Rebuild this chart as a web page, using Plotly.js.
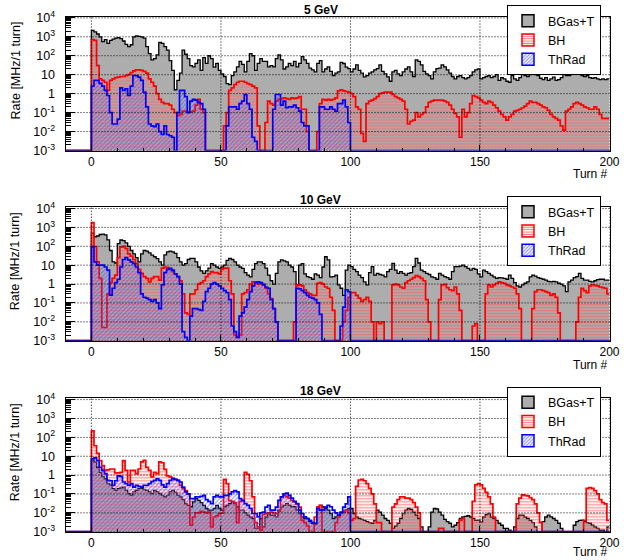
<!DOCTYPE html>
<html>
<head>
<meta charset="utf-8">
<script src="https://cdn.plot.ly/plotly-3.0.1.min.js"></script>
<style>
html,body{margin:0;padding:0;background:#fff;}
#chart{width:624px;height:560px;}
</style>
</head>
<body>
<div id="chart"></div>
<script>
// ---------------- data ----------------
const turnRange = [-10, 200];      // histogram axis range (turns)
const binWidth = 1;                // one bin per turn, bins start at turn 0
const panelTitles = ['5 GeV', '10 GeV', '18 GeV'];
const seriesNames = ['BGas+T', 'BH', 'ThRad'];
const xTickVals = [0, 50, 100, 150, 200];
const yTickVals = [1e-3, 1e-2, 1e-1, 1, 10, 100, 1000, 10000];
const yTickText = ['10<sup>-3</sup>', '10<sup>-2</sup>', '10<sup>-1</sup>', '1', '10', '10<sup>2</sup>', '10<sup>3</sup>', '10<sup>4</sup>'];
const xTitle = 'Turn #';
const yTitle = 'Rate [MHz/1 turn]';

// 5 GeV
const bgas5 = [
2200,1800,1400,1000,550,700,450,650,750,850,
900,800,600,400,300,380,1000,1100,1050,1000,
850,300,130,60,70,110,500,450,300,200,
55,17,1.6,5,12,200,120,70,30,26,
40,60,17,80,40,100,70,25,40,17,
11,8,3.4,3,9,14,26,50,35,14,
50,130,100,17,40,70,50,50,26,30,
26,70,110,60,20,26,40,30,50,26,
40,90,60,40,22,18,14,40,55,14,
20,26,15,9,12,14,45,39,25,21,
14,20,33,17,12,7.6,9,12,14,18,
21,33,15,11,7.6,4.5,14,17,11,9,
14,20,26,14,8,60,50,33,15,11,
9,6,14,21,22,33,26,18,12,8,
6,8,9,7,6,7,9,14,18,20,
6,7,8,9,7,8,10,5,7,6,
4.5,4,9,6,5,7,11,9,8,10,
11,10,9,6.5,5.5,7,5,6,7.5,5,
5.5,7,11,9,9,12,14,13,11,9,
8,9,7,6.5,7,6,5.5,6,5.5,6];
const bh5 = [
700,650,30,6,5,4,1.5,5,6,7,
7.5,8,8,9,10,13,16,18,18,17,
15,12,6,4,2.5,1,0.5,0.35,0.3,0.3,
0.25,0.15,0.1,0.07,0.08,0.12,0.12,0.11,0.11,0.12,
0.25,0.5,0.15,0.1,0,0,0,0,0,0,
0,0.02,0.1,1.5,2,3,4,4.5,4.5,4,
3.4,3,2.5,2,0.02,0,0,0.03,0.4,0.3,
0.25,0.4,0.5,0.55,0.6,0.55,0.5,0.6,0.55,0.6,
0.7,0.15,0.15,0.01,0,0,0,0.01,0.3,0.5,
0.45,0.5,0.45,0.5,0.6,1.4,1.6,1.4,1.3,1.2,
1.0,0.7,0.2,0.15,0.008,0.003,0.3,0.4,0.45,0.55,
0.7,1.0,1.1,1.2,1.2,1.2,0.9,0.7,0.6,0.5,
0.4,0.15,0.025,0.035,0.04,0.1,0.06,0.08,0.1,0.2,
0.35,0.4,0.45,0.45,0.45,0.45,0.4,0.35,0.25,0.15,
0.09,0.06,0.005,0.15,0.06,0.1,0.3,0.8,0.7,0.6,
0.45,0.35,0.3,0.4,0.35,0.25,0.18,0.12,0.08,0.06,
0.04,0.06,0.08,0.12,0.13,0.15,0.18,0.22,0.3,0.4,
0.35,0.35,0.3,0.25,0.2,0.18,0.13,0.08,0.06,0.05,
0.04,0.02,0.012,0.12,0.15,0.2,0.3,0.35,0.3,0.25,
0.2,0.18,0.15,0.15,0.2,0.15,0.08,0.05,0.05,0.05];
const thrad5 = [
2.5,5,5,3.5,2.5,1.5,0.8,0.1,0.025,0.025,
0.045,2,1.5,1.8,0.8,2.5,9,9,7.5,5,
1.2,0.2,0.025,0.02,0.018,0.025,0.01,0.007,0.02,0.007,
0.006,0.005,0,0.1,1.5,1.5,0.7,0.1,0.4,0.5,
0.45,0.35,0.3,0.15,0,0,0,0,0,0,
0,0,0.02,0.2,0.2,0.2,0.15,0.3,0.4,0.9,
0.3,0.15,0.005,0.003,0,0,0,0,0,0,
0.15,0.9,0.9,0.25,0.4,0.18,0.2,0.2,0.25,0.18,
0.12,0.03,0.02,0.02,0,0,0,0,0.2,0.2,
0.15,0.15,0.2,0.15,0.12,0.3,0.3,0.45,0.2,0.03,
0,0,0,0,0,0,0,0,0,0, 0,0,0,0,0,0,0,0,0,0,
0,0,0,0,0,0,0,0,0,0, 0,0,0,0,0,0,0,0,0,0,
0,0,0,0,0,0,0,0,0,0, 0,0,0,0,0,0,0,0,0,0,
0,0,0,0,0,0,0,0,0,0, 0,0,0,0,0,0,0,0,0,0,
0,0,0,0,0,0,0,0,0,0, 0,0,0,0,0,0,0,0,0,0];

// 10 GeV
const bgas10 = [
500,320,350,420,440,400,220,60,15,13,
140,215,200,150,100,60,40,25,15,40,
60,55,45,34,28,22,15,10,35,50,
55,50,42,25,15,10,12,20,23,23,
15,8,5,3.7,5,7,12,10,8,6.8,
8,10,18,23,20,15,10,8,6.8,4,
3,2.4,6,12,15,15,12,7,3,1.5,
1,3.7,15,19,17,15,10,8,4.5,0.8,
10,12,3.5,2.5,2.2,1.8,3.5,3,2.2,8,
28,19,2.4,2.5,3,0.9,0.6,0.25,5.5,10,
8.3,6,4.5,3,2.2,1.3,0.9,4,8.3,3,
3.7,3.2,3,2.4,4.5,6,12.5,5.5,3.7,4.5,
3.7,3,3.7,4,8.3,23,13,5.5,4.5,3.7,
3.2,2.4,2.2,1.8,3.7,3,2.5,2.2,1.8,4.5,
8.3,8.3,9,10,8.3,6.8,5.5,6.8,6,3.5,
2.4,5.5,4.5,3.7,3,2.4,2,2.2,2.1,2,
1.8,3,2,1.2,0.8,0.7,0.9,1.1,1.3,2.4,
3,2.6,2.2,2,1.8,1.6,1.4,1.3,1.4,1.3,
1.1,1.0,0.8,0.4,1.3,1.6,2.2,2.5,3.7,2.0,
1.6,1.6,1.4,1.3,1.5,1.7,1.8,1.8,1.6,1.6];
const bh10 = [
1800,95,15,2,0.005,0.005,0.3,1.2,2,3,
25,90,100,75,40,30,20,12,6,3.7,
2.5,2,1.3,2,2.5,2.5,1.6,7,8,7.5,
6,4.5,3.5,2.5,1.5,0.3,0.03,0.025,0.3,0.3,
0.5,1.0,1.2,1.5,2.5,3.5,4.5,4,4,3.5,
6,7,7,1.5,0.3,0.002,0.0015,0.002,0.3,0.35,
0.5,1,1.3,1.3,1,1.1,1,0.6,0.3,0.17,
0.05,0.01,0,0,0,0,0,0,0.01,0.9,
0.9,0.8,0.5,0.35,0.3,0.25,0.25,1.1,1.2,1.0,
0.7,0.6,0.2,0.04,0,0,0,0.01,0.04,0.2,
0.35,0.35,0.25,0.18,0.12,0.15,0.2,0.12,0.01,0,
0.01,0.008,0.01,0,0,0,0.9,1.0,0.9,0.7,
0.6,1.2,1.5,1.8,2.2,2.8,2.5,2.0,1.5,0.15,
0.01,0,0,0,0.15,0.9,0.95,0.65,0.5,0.45,
0.7,0.3,0.04,0,0,0,0,0.006,0.008,0,
0,0,0.3,0.9,0.7,0.9,1.1,1.3,1.2,1.1,
0.9,0.8,0.7,0.6,0.3,0.05,0,0,0,0,
0.05,0.4,0.5,0.5,0.45,0.4,0.35,0.25,0.3,0.2,
0.03,0,0,0,0,0,0,0.01,0.2,0.6,
0.45,0.35,0.8,0.9,0.85,0.8,0.7,0.65,0.6,0.3];
const thrad10 = [
95,15,10,10,10,8,5.5,0.26,0.6,1.2,
1.8,8,20,25,19,15,12,8,4,0.3,
0.2,0.18,0.15,0.12,0.15,0.1,0.05,0.9,4,6,
6.8,5.5,3.5,2.5,1,0.003,0.0015,0,0.02,0.05,
0.05,0.045,0.04,0.12,0.4,0.6,1,1.2,1.0,0.8,
0.6,0.45,0.35,0.15,0.006,0.003,0.0015,0.02,0.03,0.06,
0.15,0.4,0.8,1.2,1.3,1.2,0.9,0.7,0.6,0.15,
0.05,0.01,0,0,0,0,0,0,0,0.6,
0.55,0.45,0.35,0.25,0.2,0.18,0.15,0.1,0.025,0,
0,0,0,0,0,0,0.006,0.06,0.5,0.4,
0,0,0,0,0,0,0,0,0,0, 0,0,0,0,0,0,0,0,0,0,
0,0,0,0,0,0,0,0,0,0, 0,0,0,0,0,0,0,0,0,0,
0,0,0,0,0,0,0,0,0,0, 0,0,0,0,0,0,0,0,0,0,
0,0,0,0,0,0,0,0,0,0, 0,0,0,0,0,0,0,0,0,0,
0,0,0,0,0,0,0,0,0,0, 0,0,0,0,0,0,0,0,0,0];

// 18 GeV
const bgas18 = [
6,4.8,2.6,1.4,0.8,0.64,0.35,0.3,0.19,0.155,
0.19,0.21,0.23,0.155,0.105,0.085,0.13,0.155,0.19,0.2,
0.17,0.155,0.13,0.105,0.155,0.13,0.105,0.085,0.07,0.085,
0.128,0.155,0.12,0.085,0.07,0.05,0.03,0.025,0.021,0.038,
0.057,0.046,0.035,0.025,0.017,0.014,0.014,0.017,0.025,0.017,
0.014,0.021,0.025,0.031,0.038,0.03,0.021,0.014,0.014,0.01,
0.0075,0.006,0.005,0.0015,0.0015,0.005,0.0018,0.006,0.0092,0.0075,
0.0075,0.0061,0.014,0.02,0.025,0.031,0.025,0.021,0.021,0.014,
0.0092,0.0061,0.005,0.005,0.0034,0.0028,0.0025,0.02,0.025,0.021,
0.017,0.014,0.0092,0.005,0.006,0.0075,0.0092,0.011,0.014,0.017,
0.017,0.0092,0.0061,0.005,0.0045,0.004,0.0034,0.003,0.0028,0.004,
0.014,0.011,0.0075,0.005,0.004,0.0028,0.0015,0.002,0.0028,0.005,
0.0092,0.014,0.017,0.015,0.011,0.0075,0.005,0.0018,0,0,
0.0018,0.011,0.017,0.016,0.011,0.0075,0.0045,0.0034,0.0028,0.0018,
0.0022,0.003,0.005,0.0061,0.0065,0.007,0.006,0.005,0.004,0.0041,
0.0032,0.006,0.008,0.0092,0.006,0.005,0.004,0.0028,0.0022,0.0015,
0.0015,0.0012,0,0.0018,0.005,0.0075,0.0075,0.006,0.005,0.004,
0.003,0.0018,0,0,0.0034,0.006,0.0075,0.0061,0.005,0.004,
0.0028,0.0015,0,0,0,0,0.0022,0.0034,0.004,0.0041,
0.0034,0.003,0.0028,0.0022,0.0018,0.0015,0.0012,0.0012,0,0.0018];
const bh18 = [
220,36,14,5.9,3.2,1.8,1.9,2.1,2.1,1.3,
1.3,1.4,5.9,1.8,0.43,1.8,1.8,1.2,2.1,5,
6,2.6,1.8,0.8,1.4,1.2,5,4.5,2,0.9,
0.8,0.7,0.6,0.52,0.29,0.2,0.15,0.1,0.0022,0.006,
0.01,0.01,0.012,0.011,0.01,0.011,0.0018,0.006,0.007,0.009,
0.0095,0.6,0.35,0.045,0.04,0.035,0.003,0.04,0.045,1.4,
1.1,0.5,0.07,0.003,0.0018,0.0012,0.008,0.009,0.01,0.011,
0.01,0.009,0.012,0.07,0.085,0.07,0.06,0.045,0.038,0.03,
0.02,0.004,0.003,0.002,0,0,0.006,0.02,0.025,0,
0,0,0,0,0.003,0.006,0.01,0.012,0.014,0.01,
0.004,0.005,0.25,0.55,0.6,0.5,0.35,0.2,0.1,0.03,
0.003,0.003,0,0,0,0,0.02,0.03,0.05,0.07,
0.07,0.06,0.06,0.05,0.035,0.02,0.01,0,0,0,
0,0,0,0,0.0015,0.0015,0,0,0,0,
0,0,0.004,0.005,0,0,0,0.04,0.3,0.35,
0.3,0.2,0.12,0.07,0.03,0.006,0,0,0,0,
0,0,0,0,0.03,0.06,0.09,0.085,0.08,0.065,
0.05,0.03,0.01,0.003,0,0,0,0,0,0,
0,0,0,0,0,0,0,0,0,0,
0.004,0.2,0.22,0.2,0.15,0.1,0.05,0.035,0.03,0.004];
const thrad18 = [
7.2,8.1,5.9,2.6,1.8,1.2,0.52,0.5,0.29,0.5,
0.92,0.85,0.43,0.35,0.29,0.35,0.23,0.29,0.25,0.23,
0.29,0.29,0.35,0.45,0.52,0.64,0.52,0.3,0.23,0.35,
0.52,0.64,0.6,0.52,0.43,0.23,0.13,0.1,0.057,0.057,
0.07,0.07,0.075,0.085,0.05,0.04,0.031,0.07,0.085,0.07,
0.07,0.085,0.085,0.1,0.13,0.15,0.13,0.057,0.046,0.031,
0.025,0.017,0.0092,0.0092,0.0061,0.01,0.011,0.02,0.025,0.014,
0.014,0.02,0.046,0.07,0.1,0.11,0.085,0.06,0.04,0.031,
0.014,0.009,0.0061,0.005,0.004,0.003,0.0028,0.017,0.014,0.014,
0.02,0.025,0.021,0.014,0.01,0.0075,0.011,0.02,0.03,0.07,
0,0,0,0,0,0,0,0,0,0, 0,0,0,0,0,0,0,0,0,0,
0,0,0,0,0,0,0,0,0,0, 0,0,0,0,0,0,0,0,0,0,
0,0,0,0,0,0,0,0,0,0, 0,0,0,0,0,0,0,0,0,0,
0,0,0,0,0,0,0,0,0,0, 0,0,0,0,0,0,0,0,0,0,
0,0,0,0,0,0,0,0,0,0, 0,0,0,0,0,0,0,0,0,0];

const panelData = [
  [bgas5, bh5, thrad5],
  [bgas10, bh10, thrad10],
  [bgas18, bh18, thrad18]
];

// ---------------- layout / styles ----------------
const W = 624, H = 560;
const FONT = 'Liberation Sans, Arial, Helvetica, sans-serif';
const yRange = [-3, 4.07];
const FLOOR = Math.pow(10, yRange[0]);   // empty bins drawn on the lower frame edge
const plotLeft = 65.5, plotRight = 609.5;
const frames = [[16.5, 150.5], [207.2, 340.7], [398.3, 531.7]]; // top,bottom px
const titleY = [10, 200, 391];
const legendTop = [5, 196, 386.5];
const xTitleY = [174, 365, 552];

const styles = [
  { line: {color: '#000000', width: 1.3}, fillcolor: '#adadad' },
  { line: {color: '#ff0000', width: 1.7}, fillcolor: 'rgba(0,0,0,0)',
    fillpattern: {shape: '-', fgcolor: '#ff5a5a', fgopacity: 0.65, bgcolor: 'rgba(0,0,0,0)', size: 3, solidity: 0.45, fillmode: 'replace'} },
  { line: {color: '#0000ff', width: 1.7}, fillcolor: 'rgba(0,0,0,0)',
    fillpattern: {shape: '/', fgcolor: '#4a4aff', fgopacity: 0.55, bgcolor: 'rgba(0,0,0,0)', size: 3, solidity: 0.4, fillmode: 'replace'} }
];
const legendMarkers = [
  { color: '#adadad', line: {color: '#000000', width: 1.5} },
  { color: '#ffffff', line: {color: '#ff0000', width: 1.5},
    pattern: {shape: '-', fgcolor: '#ff7a7a', bgcolor: '#ffffff', size: 3, solidity: 0.45, fillmode: 'replace'} },
  { color: '#ffffff', line: {color: '#0000ff', width: 1.5},
    pattern: {shape: '/', fgcolor: '#7a7aff', bgcolor: '#ffffff', size: 3, solidity: 0.4, fillmode: 'replace'} }
];

function stepXY(vals) {
  const xs = [turnRange[0]], ys = [FLOOR];
  vals.forEach((v, i) => { xs.push(i * binWidth); ys.push(v > 0 ? v : FLOOR); });
  const last = vals[vals.length - 1];
  xs.push(vals.length * binWidth); ys.push(last > 0 ? last : FLOOR);
  return {xs, ys};
}

const minorVals = [];
yTickVals.slice(0, -1).forEach(d => { for (let m = 2; m <= 9; m++) minorVals.push(m * d); });

const traces = [];
const layout = {
  width: W, height: H,
  margin: {l: 0, r: 0, t: 0, b: 0, autoexpand: false},
  paper_bgcolor: '#ffffff', plot_bgcolor: '#ffffff',
  font: {family: FONT, size: 12, color: '#000'},
  showlegend: true,
  hovermode: false,
  shapes: [],
  annotations: []
};

panelData.forEach((series, p) => {
  const sfx = p === 0 ? '' : String(p + 1);
  const xa = 'x' + sfx, ya = 'y' + sfx;
  const legName = 'legend' + sfx;
  const [top, bot] = frames[p];

  series.forEach((vals, s) => {
    const st = stepXY(vals);
    const tr = {
      type: 'scatter', mode: 'lines', x: st.xs, y: st.ys,
      xaxis: xa, yaxis: ya, line: Object.assign({shape: 'hv'}, styles[s].line),
      fill: 'tozeroy', fillcolor: styles[s].fillcolor,
      showlegend: false, name: seriesNames[s], hoverinfo: 'skip'
    };
    if (styles[s].fillpattern) tr.fillpattern = styles[s].fillpattern;
    traces.push(tr);
  });
  series.forEach((vals, s) => {
    traces.push({
      type: 'bar', x: [null], y: [null], xaxis: xa, yaxis: ya,
      name: seriesNames[s], legend: legName, marker: legendMarkers[s], showlegend: true
    });
  });

  layout['xaxis' + sfx] = {
    domain: [plotLeft / W, plotRight / W], anchor: ya,
    range: turnRange, tickmode: 'linear', tick0: 0, dtick: 50,
    ticks: 'inside', ticklen: 6, tickwidth: 1, tickcolor: '#000',
    minor: {dtick: 10, tick0: 0, ticks: 'inside', ticklen: 3, tickcolor: '#000', showgrid: false},
    showgrid: false, zeroline: false, showline: true, mirror: true, linecolor: '#000', linewidth: 1,
    tickfont: {family: FONT, size: 12, color: '#000'}, fixedrange: true
  };
  layout['yaxis' + sfx] = {
    domain: [1 - bot / H, 1 - top / H], anchor: xa,
    type: 'log', range: yRange, tickmode: 'array', tickvals: yTickVals, ticktext: yTickText,
    ticks: 'inside', ticklen: 9, tickwidth: 1, tickcolor: '#000', ticklabelstandoff: 7,
    minor: {tickmode: 'array', tickvals: minorVals, ticks: 'inside', ticklen: 5, tickcolor: '#000', showgrid: false},
    showgrid: false, zeroline: false, showline: true, mirror: true, linecolor: '#000', linewidth: 1,
    tickfont: {family: FONT, size: 12.5, color: '#000'}, fixedrange: true
  };

  // dotted grid on top of the histograms, at the major tick positions
  xTickVals.forEach(v => layout.shapes.push({
    type: 'line', xref: xa, yref: ya + ' domain', x0: v, x1: v, y0: 0, y1: 1,
    line: {color: '#000', width: 1, dash: '1px,2px'}, layer: 'above'
  }));
  yTickVals.forEach(v => layout.shapes.push({
    type: 'line', xref: xa + ' domain', yref: ya, x0: 0, x1: 1, y0: v, y1: v,
    line: {color: '#000', width: 1, dash: '1px,2px'}, layer: 'above'
  }));

  layout[legName] = {
    x: 507 / W, y: 1 - legendTop[p] / H, xanchor: 'left', yanchor: 'top',
    bgcolor: '#ffffff', bordercolor: '#000000', borderwidth: 1,
    font: {family: FONT, size: 12.5, color: '#000'}, tracegroupgap: 0,
    entrywidth: 125, entrywidthmode: 'pixels'
  };

  layout.annotations.push({
    text: '<b>' + panelTitles[p] + '</b>', xref: 'paper', yref: 'paper',
    x: 321 / W, y: 1 - titleY[p] / H, xanchor: 'center', yanchor: 'middle',
    showarrow: false, font: {family: FONT, size: 12, color: '#000'}
  });
  layout.annotations.push({
    text: yTitle, xref: 'paper', yref: 'paper', textangle: -90,
    x: 15 / W, y: 1 - (top + 3) / H, xanchor: 'center', yanchor: 'top',
    showarrow: false, font: {family: FONT, size: 12.5, color: '#000'}
  });
  layout.annotations.push({
    text: xTitle, xref: 'paper', yref: 'paper',
    x: 610 / W, y: 1 - xTitleY[p] / H, xanchor: 'right', yanchor: 'middle',
    showarrow: false, font: {family: FONT, size: 12, color: '#000'}
  });
});

Plotly.newPlot('chart', traces, layout, {staticPlot: true, displayModeBar: false});
</script>
</body>
</html>
